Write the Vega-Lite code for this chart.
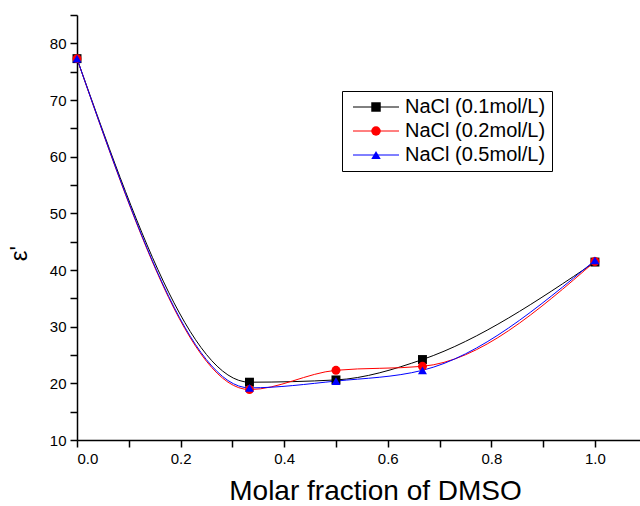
{
  "$schema": "https://vega.github.io/schema/vega-lite/v6.json",
  "width": 563,
  "height": 425,
  "autosize": {"type": "none"},
  "padding": {"left": 77, "top": 15, "right": 0, "bottom": 66},
  "background": "white",
  "config": {
    "view": {"stroke": null},
    "font": "Liberation Sans",
    "axis": {"grid": false, "domainColor": "black", "domainWidth": 1.5, "tickColor": "black", "tickWidth": 1.5, "labelColor": "black", "titleColor": "black", "labelFont": "Liberation Sans", "titleFont": "Liberation Sans", "labelFontSize": 15, "titleFontWeight": "normal"}
  },
  "data": {
    "values": [
      {"x": 0, "y": 77.3, "series": "NaCl (0.1mol/L)"},
      {"x": 0.333, "y": 20.2, "series": "NaCl (0.1mol/L)"},
      {"x": 0.5, "y": 20.6, "series": "NaCl (0.1mol/L)"},
      {"x": 0.667, "y": 24.2, "series": "NaCl (0.1mol/L)"},
      {"x": 1.0, "y": 41.4, "series": "NaCl (0.1mol/L)"},
      {"x": 0, "y": 77.3, "series": "NaCl (0.2mol/L)"},
      {"x": 0.333, "y": 18.9, "series": "NaCl (0.2mol/L)"},
      {"x": 0.5, "y": 22.3, "series": "NaCl (0.2mol/L)"},
      {"x": 0.667, "y": 23.0, "series": "NaCl (0.2mol/L)"},
      {"x": 1.0, "y": 41.5, "series": "NaCl (0.2mol/L)"},
      {"x": 0, "y": 77.3, "series": "NaCl (0.5mol/L)"},
      {"x": 0.333, "y": 19.2, "series": "NaCl (0.5mol/L)"},
      {"x": 0.5, "y": 20.4, "series": "NaCl (0.5mol/L)"},
      {"x": 0.667, "y": 22.3, "series": "NaCl (0.5mol/L)"},
      {"x": 1.0, "y": 41.7, "series": "NaCl (0.5mol/L)"}
    ]
  },
  "encoding": {
    "x": {
      "field": "x", "type": "quantitative",
      "scale": {"domain": [0, 1.087], "nice": false, "zero": false},
      "axis": {
        "title": "Molar fraction of DMSO", "titleFontSize": 28, "titlePadding": 11, "titleX": 298,
        "values": [0, 0.1, 0.2, 0.3, 0.4, 0.5, 0.6, 0.7, 0.8, 0.9, 1.0],
        "format": ".1f",
        "labelExpr": "round(datum.value*10)%2===0 ? datum.label : ''",
        "labelPadding": 4,
        "tickSize": 7,
        "encode": {"ticks": {"update": {"y2": {"signal": "round(datum.value*10)%2===0 ? 7 : 4"}}}}
      }
    },
    "y": {
      "field": "y", "type": "quantitative",
      "scale": {"domain": [10, 85], "nice": false, "zero": false},
      "axis": {
        "title": "ε'", "titleFontSize": 24, "titlePadding": 18, "titleY": 238,
        "values": [10, 15, 20, 25, 30, 35, 40, 45, 50, 55, 60, 65, 70, 75, 80, 85],
        "labelExpr": "datum.value%10===0 ? datum.label : ''",
        "labelPadding": 4,
        "tickSize": 7,
        "encode": {"ticks": {"update": {"x2": {"signal": "datum.value%10===0 ? -7 : -4"}}}}
      }
    }
  },
  "layer": [
    {
      "mark": {"type": "line", "interpolate": "monotone", "strokeWidth": 1},
      "encoding": {
        "stroke": {
          "field": "series", "type": "nominal",
          "scale": {"range": ["#000000", "#ff0000", "#0000ff"]},
          "legend": {
            "title": null, "orient": "none", "legendX": 265, "legendY": 76,
            "padding": 6, "symbolType": "M-4.6,0H4.6", "symbolSize": 100,
            "symbolOffset": 18, "labelOffset": 19, "symbolStrokeWidth": 1,
            "labelFontSize": 20, "labelFont": "Liberation Sans", "labelOpacity": 0,
            "rowPadding": 4, "zindex": 1,
            "labelExpr": "datum.label == 'NaCl (0.1mol/L)' ? ' ' + datum.label : datum.label"
          }
        }
      }
    },
    {
      "mark": {"type": "point", "filled": true, "opacity": 1, "size": 80},
      "encoding": {
        "color": {
          "field": "series", "type": "nominal",
          "scale": {"domain": ["NaCl (0.1mol/L)", "NaCl (0.2mol/L)", "NaCl (0.5mol/L)"], "range": ["#000000", "#ff0000", "#0000ff"]},
          "legend": {
            "title": null, "orient": "none", "legendX": 265, "legendY": 76,
            "strokeColor": "black", "padding": 6,
            "symbolSize": 90, "symbolOffset": 18, "labelOffset": 19,
            "labelFontSize": 20, "labelFont": "Liberation Sans", "labelColor": "black",
            "rowPadding": 4, "zindex": 0,
            "labelExpr": "datum.label == 'NaCl (0.1mol/L)' ? ' ' + datum.label : datum.label"
          }
        },
        "shape": {"field": "series", "type": "nominal", "scale": {"domain": ["NaCl (0.1mol/L)", "NaCl (0.2mol/L)", "NaCl (0.5mol/L)"], "range": ["square", "circle", "triangle-up"]}, "legend": null}
      }
    }
  ]
}
